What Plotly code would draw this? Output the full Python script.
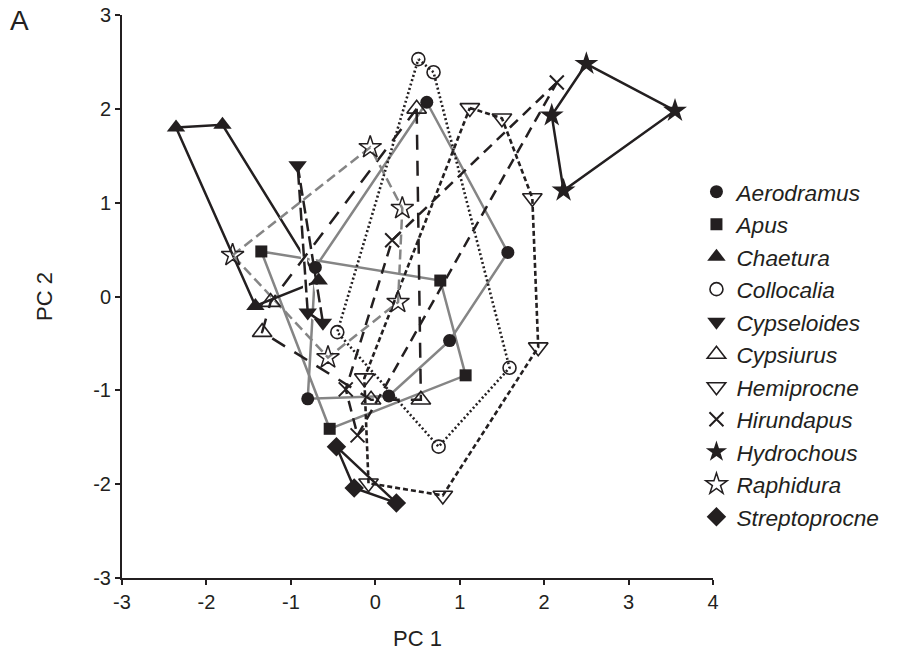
import plotly.graph_objects as go

# ---- data ----
species = ["Aerodramus", "Apus", "Chaetura", "Collocalia", "Cypseloides", "Cypsiurus",
           "Hemiprocne", "Hirundapus", "Hydrochous", "Raphidura", "Streptoprocne"]

aerodramus_x = [0.61, 1.57, 0.88, 0.16, -0.80, -0.71]
aerodramus_y = [2.07, 0.47, -0.47, -1.06, -1.09, 0.31]

apus_x = [-1.35, 0.77, 1.07, -0.54]
apus_y = [0.48, 0.17, -0.84, -1.41]

chaetura_x = [-2.36, -1.81, -0.67, -1.42]
chaetura_y = [1.80, 1.83, 0.17, -0.10]

collocalia_x = [0.51, 0.69, 1.59, 0.75, -0.45]
collocalia_y = [2.53, 2.39, -0.76, -1.60, -0.38]

cypseloides_x = [-0.92, -0.62, -0.80]
cypseloides_y = [1.40, -0.28, -0.17]

cypsiurus_x = [0.49, 0.54, -0.05, -1.34, -1.24]
cypsiurus_y = [2.00, -1.10, -1.10, -0.38, -0.06]

hemiprocne_x = [1.12, 1.50, 1.86, 1.93, 0.80, -0.08, -0.13]
hemiprocne_y = [2.01, 1.90, 1.05, -0.54, -2.12, -1.99, -0.87]

hirundapus_x = [2.15, 0.20, -0.35, -0.21]
hirundapus_y = [2.28, 0.60, -0.99, -1.48]

hydrochous_x = [2.50, 3.55, 2.23, 2.09]
hydrochous_y = [2.48, 1.98, 1.13, 1.93]

raphidura_x = [-1.69, -0.06, 0.32, 0.27, -0.56]
raphidura_y = [0.44, 1.59, 0.94, -0.06, -0.65]

streptoprocne_x = [-0.46, -0.25, 0.25]
streptoprocne_y = [-1.60, -2.04, -2.20]

x_ticks = [-3, -2, -1, 0, 1, 2, 3, 4]
y_ticks = [-3, -2, -1, 0, 1, 2, 3]

# ---- styles ----
BLACK = "#231f20"
GRAY = "#858585"
FONT = "Liberation Sans, Arial, Helvetica, sans-serif"

series = [
    # name, xs, ys, symbol, size, line color, dash, width, marker outline width
    ("Aerodramus", aerodramus_x, aerodramus_y, "circle", 13, GRAY, "solid", 2.5, 0),
    ("Apus", apus_x, apus_y, "square", 12, GRAY, "solid", 2.5, 0),
    ("Chaetura", chaetura_x, chaetura_y, "triangle-up", 16, BLACK, "solid", 2.5, 0),
    ("Collocalia", collocalia_x, collocalia_y, "circle-open", 13, BLACK, "2px,2.5px", 2.6, 1.6),
    ("Cypseloides", cypseloides_x, cypseloides_y, "triangle-down", 16, BLACK, "13px,5px", 2.5, 0),
    ("Cypsiurus", cypsiurus_x, cypsiurus_y, "triangle-up-open", 17, BLACK, "15px,11px", 2.5, 1.6),
    ("Hemiprocne", hemiprocne_x, hemiprocne_y, "triangle-down-open", 17, BLACK, "5px,3px", 2.6, 1.6),
    ("Hirundapus", hirundapus_x, hirundapus_y, "x-thin-open", 14, BLACK, "11px,7px", 2.5, 2),
    ("Hydrochous", hydrochous_x, hydrochous_y, "star", 18, BLACK, "solid", 2.5, 0),
    ("Raphidura", raphidura_x, raphidura_y, "star-open", 17, GRAY, "10px,5px", 2.5, 1.5),
    ("Streptoprocne", streptoprocne_x, streptoprocne_y, "diamond", 15, BLACK, "solid", 2.5, 0),
]

fig = go.Figure()

# polygons (closed outlines)
for name, xs, ys, sym, size, col, dash, w, mw in series:
    px = list(xs) + [xs[0]]
    py = list(ys) + [ys[0]]
    if name == "Cypseloides":
        fig.add_trace(go.Scatter(x=px, y=py, mode="lines", showlegend=False, hoverinfo="skip",
                                 line=dict(color="white", width=6)))
    fig.add_trace(go.Scatter(x=px, y=py, mode="lines", showlegend=False, hoverinfo="skip",
                             line=dict(color=col, width=w, dash=dash)))

# markers (with legend)
for name, xs, ys, sym, size, col, dash, w, mw in series:
    fig.add_trace(go.Scatter(
        x=xs, y=ys, mode="markers", name="<i>" + name + "</i>",
        marker=dict(symbol=sym, size=size, color=BLACK,
                    line=dict(color=BLACK, width=mw)),
    ))

axis_common = dict(
    showgrid=False, zeroline=False, showline=True, linecolor=BLACK, linewidth=2,
    ticks="outside", ticklen=5, tickwidth=2, tickcolor=BLACK, automargin=False,
    tickfont=dict(family=FONT, size=20, color=BLACK),
)

fig.update_layout(
    width=910, height=669,
    margin=dict(l=122, r=197, t=15, b=91, autoexpand=False),
    paper_bgcolor="white", plot_bgcolor="white",
    font=dict(family=FONT, color=BLACK),
    xaxis=dict(range=[-3, 4], tickvals=x_ticks, ticktext=[str(v) for v in x_ticks],
               title=dict(text="PC 1", font=dict(family=FONT, size=22, color=BLACK), standoff=19),
               **axis_common),
    yaxis=dict(range=[-3, 3], tickvals=y_ticks, ticktext=[str(v) for v in y_ticks],
               title=dict(text="PC 2", font=dict(family=FONT, size=22, color=BLACK), standoff=35),
               **axis_common),
    legend=dict(x=0.972, y=0.724, xanchor="left", yanchor="top",
                bgcolor="rgba(0,0,0,0)", font=dict(family=FONT, size=22.7, color=BLACK),
                itemsizing="trace"),
    annotations=[dict(text="A", x=0, y=1, xref="paper", yref="paper", xshift=-114, yshift=12,
                      xanchor="left", yanchor="top", showarrow=False,
                      font=dict(family=FONT, size=28, color=BLACK))],
)

fig.write_html("out.html")
